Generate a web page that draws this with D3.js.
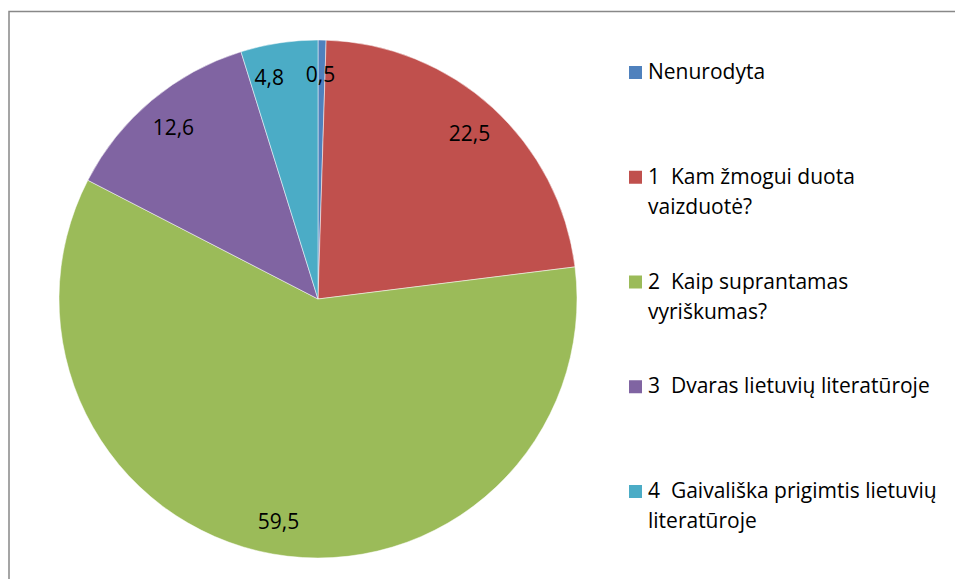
<!DOCTYPE html>
<html>
<head>
<meta charset="utf-8">
<script src="https://cdn.jsdelivr.net/npm/d3@7"></script>
<style>
  body { margin: 0; background: #fff; }
  svg text { font-family: "Open Sans", sans-serif; font-size: 21px; fill: #000; white-space: pre; }
</style>
</head>
<body>
<svg width="955" height="579"></svg>
<script>
var categories = ["Nenurodyta", "1  Kam žmogui duota vaizduotė?", "2  Kaip suprantamas vyriškumas?",
                  "3  Dvaras lietuvių literatūroje", "4  Gaivališka prigimtis lietuvių literatūroje"]
var values = [0.5, 22.5, 59.5, 12.6, 4.8]
var valueLabels = ["0,5", "22,5", "59,5", "12,6", "4,8"]
// legend text split into lines as in the picture
var legendLines = [["Nenurodyta"], ["1  Kam žmogui duota", "vaizduotė?"], ["2  Kaip suprantamas", "vyriškumas?"],
                   ["3  Dvaras lietuvių literatūroje"], ["4  Gaivališka prigimtis lietuvių", "literatūroje"]]
var colors = ["#4F81BD", "#C0504D", "#9BBB59", "#8064A2", "#4BACC6"]

var svg = d3.select("svg")

// chart frame
svg.append("rect")
    .attr("x", 9).attr("y", 11.5)
    .attr("width", 960).attr("height", 600)
    .attr("fill", "none").attr("stroke", "#888").attr("stroke-width", 1.5)

var cx = 318, cy = 299, radius = 259

var col = d3.scaleOrdinal().domain(categories).range(colors)

var pie = d3.pie().sort(null).value(function(d) { return d })
var arcs = pie(values)

var arc = d3.arc().innerRadius(0).outerRadius(radius)
var labelArc = d3.arc().innerRadius(225).outerRadius(225)

var g = svg.append("g").attr("transform", "translate(" + cx + "," + cy + ")")

g.selectAll("path")
    .data(arcs)
    .enter().append("path")
    .attr("d", arc)
    .attr("fill", function(d, i) { return col(categories[i]) })
    .attr("stroke", "#fff")
    .attr("stroke-width", 0.5)

// small slices sit next to each other at the top, nudge the 4,8 label left
var nudge = [-1, 0, 0, 0, -15]

g.selectAll("text.val")
    .data(arcs)
    .enter().append("text")
    .attr("class", "val")
    .attr("x", function(d, i) { return labelArc.centroid(d)[0] + nudge[i] })
    .attr("y", function(d) { return labelArc.centroid(d)[1] + 8 })
    .attr("text-anchor", "middle")
    .text(function(d, i) { return valueLabels[i] })

// legend
var ly = d3.scaleLinear().domain([0, 4]).range([79, 498])

var leg = svg.selectAll("g.leg")
    .data(categories)
    .enter().append("g")
    .attr("class", "leg")
    .attr("transform", function(d, i) { return "translate(629," + ly(i) + ")" })

leg.append("rect")
    .attr("x", 0).attr("y", -13)
    .attr("width", 13).attr("height", 13)
    .attr("fill", function(d) { return col(d) })

leg.each(function(d, i) {
    var t = d3.select(this).append("text").attr("x", 19).attr("y", 0)
    legendLines[i].forEach(function(line, j) {
        t.append("tspan").attr("x", 19).attr("y", j * 30).text(line)
    })
})
</script>
</body>
</html>
